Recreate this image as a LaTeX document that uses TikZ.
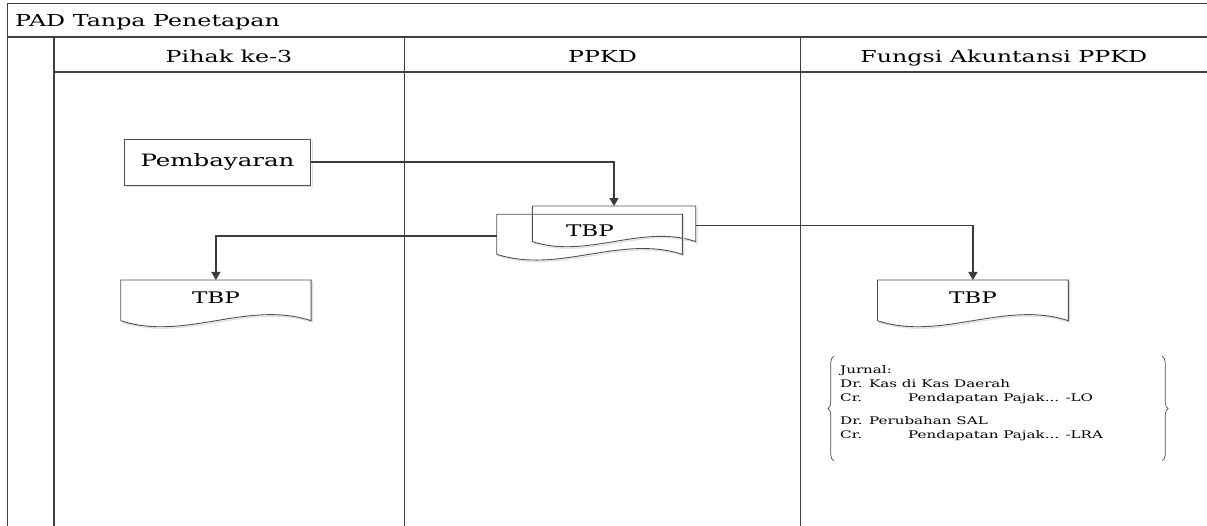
\documentclass[tikz,border=0pt]{standalone}
\usepackage{fontspec}
\setmainfont{DejaVu Serif}[FakeStretch=1.44]
\usetikzlibrary{arrows.meta,calc,decorations.pathreplacing}
\definecolor{frameC}{HTML}{404040}
\definecolor{connC}{HTML}{3C3C3C}
\definecolor{docC}{HTML}{505050}
\tikzset{
  frameline/.style={draw=frameC,line width=1.5pt},
  laneline/.style={draw=frameC,line width=1.4pt},
  conn/.style={draw=connC,line width=1.3pt,-{Triangle[length=8pt,width=9pt]}},
  docline/.style={draw=docC,line width=0.9pt},
  shadowline/.style={draw=black!12,line width=1.2pt},
  docnode/.style={inner sep=0pt,outer sep=0pt},
  procbox/.style={draw=docC,line width=0.9pt,inner sep=0pt,outer sep=0pt,font=\fontsize{17}{20}\selectfont},
  titletext/.style={inner sep=0pt,font=\fontsize{16.5}{19}\selectfont},
  headtext/.style={inner sep=0pt,font=\fontsize{16.5}{19}\selectfont},
  doctext/.style={inner sep=0pt,font=\fontsize{16}{19}\selectfont},
  jtext/.style={inner sep=0pt,align=left,font=\fontsize{10.5}{14.2}\selectfont},
}
\newcommand\docshape[2]{%
  \draw[shadowline] ([shift={(1.5,1.5)}]#1.north east) -- ([shift={(1.5,1.5)}]#1.south east)
    .. controls ($([shift={(1.5,1.5)}]#1.south east)!0.333!([shift={(1.5,1.5)}]#1.south west)+(0,-#2)$)
    and ($([shift={(1.5,1.5)}]#1.south east)!0.667!([shift={(1.5,1.5)}]#1.south west)+(0,#2)$)
    .. ([shift={(1.5,1.5)}]#1.south west);
  \draw[docline] (#1.south west) -- (#1.north west) -- (#1.north east) -- (#1.south east)
    .. controls ($(#1.south east)!0.333!(#1.south west)+(0,-#2)$)
    and ($(#1.south east)!0.667!(#1.south west)+(0,#2)$) .. (#1.south west);}
\begin{document}
\begin{tikzpicture}[x=1pt,y=-1pt]
\useasboundingbox (0,0) rectangle (1207,526);
% frame
\coordinate (tl) at (7.5,3.3);
\coordinate (tr) at (1207,3.3);
\coordinate (hl) at (7.5,37);
\coordinate (hr) at (1207,37);
\coordinate (bl) at (7.5,526);
\draw[frameline] (tr) -- (tl) -- (bl);
\draw[frameline] (hl) -- (hr);
\draw[laneline] (54,37) -- (54,526);
\draw[laneline] (404.3,37) -- (404.3,526);
\draw[laneline] (800.5,37) -- (800.5,526);
\draw[laneline] (54,72) -- (1207,72);
% titles
\node[titletext,anchor=base west] (title) at (15,26.7) {PAD Tanpa Penetapan};
\node[headtext,anchor=base] (h1) at (229,62.5) {Pihak ke-3};
\node[headtext,anchor=base] (h2) at (602.4,62.5) {PPKD};
\node[headtext,anchor=base] (h3) at (1003.8,62.5) {Fungsi Akuntansi PPKD};
% Pembayaran
\draw[shadowline] (126,186.5) -- (312.2,186.5) -- (312.2,140.5);
\node[procbox,minimum width=186.4pt,minimum height=46pt] (pem) at (217.5,162) {Pembayaran};
% document stack in PPKD
\node[docnode,minimum width=163.4pt,minimum height=35.5pt] (back) at (614,223.8) {};
\node[docnode,minimum width=185.6pt,minimum height=40pt] (front) at (589.5,234.3) {};
\docshape{back}{18}
\docshape{front}{20}
\node[doctext] (tbpM) at (590,231) {TBP};
% left document
\node[docnode,minimum width=190.3pt,minimum height=40.7pt] (tbpL) at (215.9,300.35) {};
\docshape{tbpL}{21}
\node[doctext] (tbpLt) at (215.9,297.5) {TBP};
% right document
\node[docnode,minimum width=190.8pt,minimum height=40.7pt] (tbpR) at (972.9,300.35) {};
\docshape{tbpR}{21}
\node[doctext] (tbpRt) at (972.9,297.5) {TBP};
% connectors
\draw[conn] (pem.east) -| (back.north);
\draw[conn] ([yshift=-1.7pt]front.west) -| (tbpL.north);
\draw[conn] ([yshift=-2pt]back.east) -| (tbpR.north);
% journal
\node[inner sep=0pt,minimum width=328pt,minimum height=104pt] (jb) at (998,408.5) {};
\draw[docline,line width=0.7pt,decorate,decoration={brace,amplitude=6pt}] (jb.south west) -- (jb.north west);
\draw[docline,line width=0.7pt,decorate,decoration={brace,amplitude=6pt}] (jb.north east) -- (jb.south east);
\node[jtext,anchor=north west] (jr) at (840,365) {Jurnal:\\
Dr. Kas di Kas Daerah\\
\makebox[68pt][l]{Cr.}Pendapatan Pajak... -LO\\[8.4pt]
Dr. Perubahan SAL\\
\makebox[68pt][l]{Cr.}Pendapatan Pajak... -LRA};
\end{tikzpicture}
\end{document}
